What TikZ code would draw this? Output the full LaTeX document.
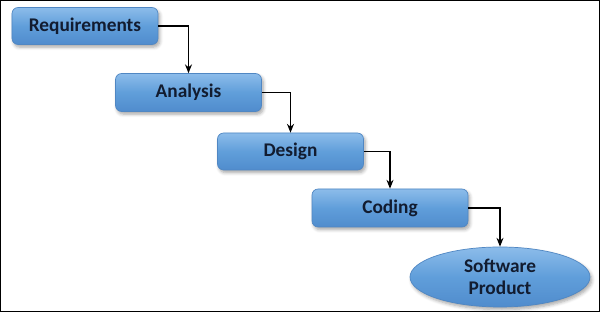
\documentclass[tikz,border=0pt]{standalone}
\usepackage{fontspec}
\setmainfont{Carlito}
\usepackage{tikz}
\usetikzlibrary{shadows.blur, shapes.geometric}
\usetikzlibrary{arrows.meta}

\definecolor{boxblue}{RGB}{96,158,218}
\definecolor{boxlight}{RGB}{140,188,234}
\definecolor{boxdark}{RGB}{80,140,205}
\definecolor{boxedge}{RGB}{80,135,195}
\definecolor{boxtext}{RGB}{18,28,48}

\tikzset{
  phase/.style={draw=boxedge, thin, rounded corners=3.5pt, minimum width=2.92cm, minimum height=0.74cm,
    top color=boxlight, bottom color=boxdark, middle color=boxblue,
    blur shadow={shadow xshift=1pt, shadow yshift=-1.5pt, shadow blur steps=5, shadow opacity=35},
    font=\fontsize{11}{12.5}\selectfont\bfseries, text=boxtext},
  flow/.style={-{Stealth[length=5pt, width=4pt]}, thick, black}
}

\begin{document}
\begin{tikzpicture}
  % 边框
  \draw[black, thin] (0.01,0.01) rectangle (11.99,6.23);
  \useasboundingbox (0,0) rectangle (12,6.24);

  % 各阶段
  \node[phase] (req) at (1.70,5.72) {Requirements};
  \node[phase, minimum height=0.76cm] (ana) at (3.77,4.39) {Analysis};
  \node[phase] (des) at (5.81,3.21) {Design};
  \node[phase, minimum width=3.12cm, minimum height=0.76cm] (cod) at (7.80,2.08) {Coding};

  % 最终产品
  \node[phase, ellipse, minimum width=3.6cm, minimum height=1.2cm, align=center, inner sep=0pt]
    (prod) at (10.0,0.70) {Software\\Product};

  % 连线
  \draw[flow] (req.east) -| (ana.north);
  \draw[flow] (ana.east) -| (des.north);
  \draw[flow] (des.east) -| (cod.north);
  \draw[flow] (cod.east) -| (prod.north);
\end{tikzpicture}
\end{document}
